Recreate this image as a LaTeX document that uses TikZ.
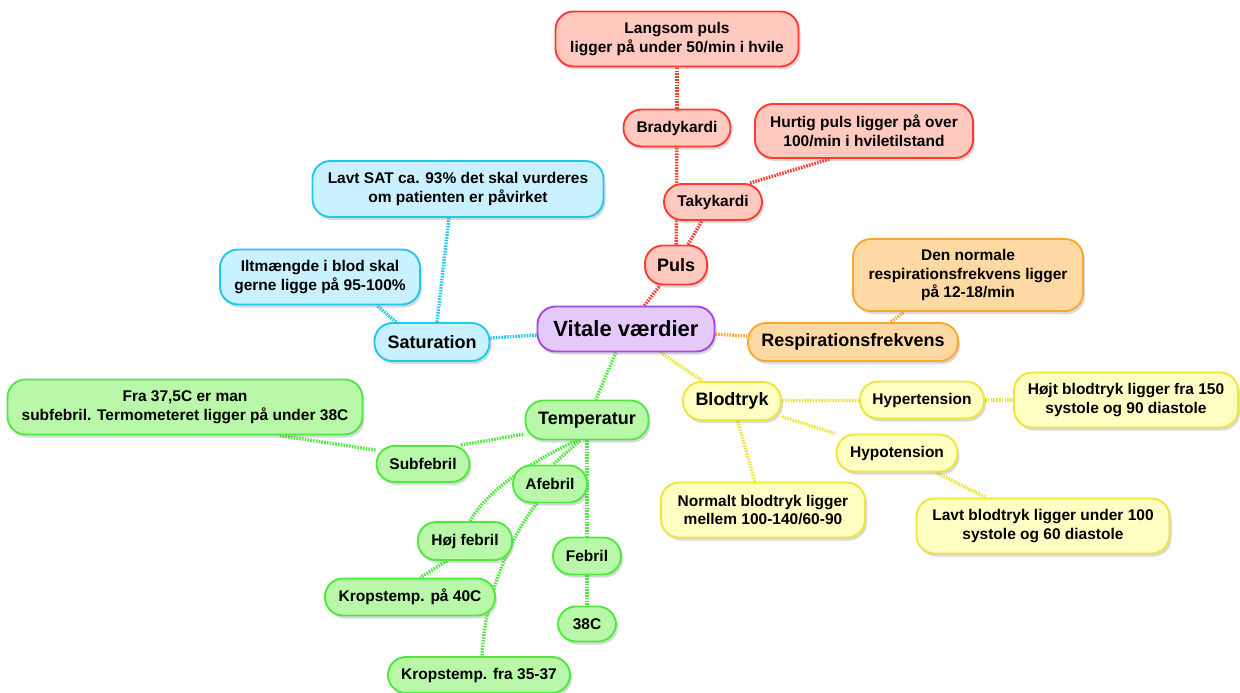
\documentclass[tikz,border=0pt]{standalone}
\usepackage{fontspec}
\setmainfont{Liberation Sans}
\usetikzlibrary{shadows,backgrounds}
\definecolor{redF}{HTML}{FFC9C0}\definecolor{redD}{HTML}{FF3B30}
\definecolor{bluF}{HTML}{C9F1FF}\definecolor{bluD}{HTML}{22C7F0}
\definecolor{purF}{HTML}{E5C9FB}\definecolor{purD}{HTML}{A347E8}
\definecolor{oraF}{HTML}{FFD9A3}\definecolor{oraD}{HTML}{FFA630}
\definecolor{yelF}{HTML}{FFFFC4}\definecolor{yelD}{HTML}{EEE53A}
\definecolor{grnF}{HTML}{B9F8A9}\definecolor{grnD}{HTML}{4FE83E}
\tikzset{
  mm/.style={draw, line width=1.9pt, rounded corners=18pt, align=center, inner sep=0pt,
    font=\bfseries\fontsize{15.5}{18.5}\selectfont,
    drop shadow={shadow xshift=2pt, shadow yshift=-3pt, opacity=0.3}},
  wh/.style 2 args={minimum width=#1pt, minimum height=#2pt},
  mid/.style={font=\bfseries\fontsize{18}{21}\selectfont},
  big/.style={font=\bfseries\fontsize{22}{25}\selectfont},
  rbox/.style={mm, fill=redF, draw=redD},
  bbox/.style={mm, fill=bluF, draw=bluD},
  pbox/.style={mm, fill=purF, draw=purD},
  obox/.style={mm, fill=oraF, draw=oraD},
  ybox/.style={mm, fill=yelF, draw=yelD},
  gbox/.style={mm, fill=grnF, draw=grnD},
  conn/.style={line width=3.4pt, dash pattern=on 1.6pt off 1.2pt},
  rl/.style={conn, draw=redD},
  bl/.style={conn, draw=bluD},
  ol/.style={conn, draw=oraD},
  yl/.style={conn, draw=yelD},
  gl/.style={conn, draw=grnD},
}
\begin{document}
\begin{tikzpicture}[x=1pt,y=-1pt]
\useasboundingbox (0,0) rectangle (1240,693);
% central
\node[pbox, big, wh={177}{45}] (vit) at (626,329) {Vitale værdier};
% puls
\node[rbox, mid, wh={62}{39}] (puls) at (676,265) {Puls};
\node[rbox, wh={98}{36}] (taky) at (713,202) {Takykardi};
\node[rbox, wh={107}{37}] (brady) at (677,128) {Bradykardi};
\node[rbox, wh={243}{55}] (lang) at (677,39) {Langsom puls\\ligger på under 50/min i hvile};
\node[rbox, wh={218}{54}] (hurt) at (864,131) {Hurtig puls ligger på over\\100/min i hviletilstand};
% saturation
\node[bbox, mid, wh={115}{38}] (sat) at (432,342) {Saturation};
\node[bbox, wh={291}{56}] (lavt) at (458,189) {Lavt SAT ca. 93\% det skal vurderes\\om patienten er påvirket};
\node[bbox, wh={200}{55}] (ilt) at (320,277) {Iltmængde i blod skal\\gerne ligge på 95-100\%};
% respiration
\node[obox, mid, wh={210}{38}] (resp) at (853,342) {Respirationsfrekvens};
\node[obox, wh={230}{72}] (norm) at (968,275) {Den normale\\respirationsfrekvens ligger\\på 12-18/min};
% blodtryk
\node[ybox, mid, wh={98}{38}] (blod) at (732,401) {Blodtryk};
\node[ybox, wh={124}{37}] (hyper) at (922,400) {Hypertension};
\node[ybox, wh={224}{55}] (hojt) at (1126,400) {Højt blodtryk ligger fra 150\\systole og 90 diastole};
\node[ybox, wh={121}{37}] (hypo) at (897,453) {Hypotension};
\node[ybox, wh={204}{55}] (normalt) at (763,510) {Normalt blodtryk ligger\\mellem 100-140/60-90};
\node[ybox, wh={253}{55}] (lavtb) at (1043,526) {Lavt blodtryk ligger under 100\\systole og 60 diastole};
% temperatur
\node[gbox, mid, wh={123}{39}] (temp) at (587,420) {Temperatur};
\node[gbox, wh={355}{55}] (fra) at (185,407) {Fra 37,5C er man\\subfebril. Termometeret ligger på under 38C};
\node[gbox, wh={93}{36}] (sub) at (423,464) {Subfebril};
\node[gbox, wh={74}{37}] (afeb) at (550,484) {Afebril};
\node[gbox, wh={94}{38}] (hojf) at (465,541) {Høj febril};
\node[gbox, wh={68}{37}] (febril) at (587,556) {Febril};
\node[gbox, wh={170}{37}] (k40) at (410,597) {Kropstemp. på 40C};
\node[gbox, wh={58}{35}] (c38) at (587,624) {38C};
\node[gbox, wh={182}{36}] (k3537) at (479,675) {Kropstemp. fra 35-37};
% connectors
\begin{scope}[on background layer]
\draw[rl] (vit) -- (puls);
\draw[rl] (puls) -- (brady);
\draw[rl] (puls) -- (taky);
\draw[rl] (brady) -- (lang);
\draw[rl] ([xshift=37pt]taky.north) -- ([xshift=-34pt]hurt.south);
\draw[bl] (vit) -- (sat);
\draw[bl] ([xshift=5pt]sat.north) -- ([xshift=-9pt]lavt.south);
\draw[bl] ([xshift=-36pt]sat.north) -- ([xshift=57pt]ilt.south);
\draw[ol] (vit) -- (resp);
\draw[ol] ([xshift=38pt]resp.north) -- ([xshift=-64pt]norm.south);
\draw[yl] (vit) -- (blod);
\draw[yl] (blod) -- (hyper);
\draw[yl] (hyper) -- (hojt);
\draw[yl] (blod) -- (hypo);
\draw[yl] (blod) -- (normalt);
\draw[yl] (hypo) -- (lavtb);
\draw[gl] (vit) -- (temp);
\draw[gl] ([xshift=38pt]sub.north) -- ([yshift=-14pt]temp.west);
\draw[gl] ([yshift=14pt]sub.west) -- ([xshift=94pt]fra.south);
\draw[gl] ([xshift=-7pt]temp.south) -- ([xshift=3pt]afeb.north);
\draw[gl] ([xshift=-10pt]temp.south) .. controls (545,455) and (490,485) .. ([xshift=5pt]hojf.north);
\draw[gl] (temp) -- (febril);
\draw[gl] (febril) -- (c38);
\draw[gl] ([xshift=-13pt]afeb.south) .. controls (515,530) and (485,590) .. ([xshift=3pt]k3537.north);
\draw[gl] ([xshift=-18pt]hojf.south) -- ([xshift=10pt]k40.north);
\end{scope}
\end{tikzpicture}
\end{document}
